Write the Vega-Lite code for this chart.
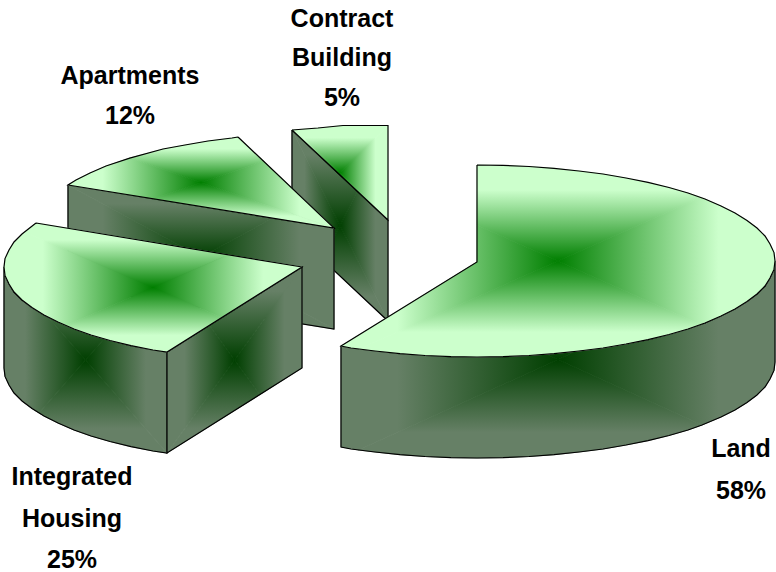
{"$schema":"https://vega.github.io/schema/vega-lite/v6.json","width":776,"height":572,"padding":0,"autosize":"none","background":"white","view":{"stroke":null},
"config":{"axis":{"grid":false}},
"layer":[
{"data":{"values":[
{"part":"cs1","tone":"sT","n":1,"x":340,"y":225.5},{"part":"cs1","tone":"sT","n":2,"x":292,"y":130},{"part":"cs1","tone":"sT","n":3,"x":357.2,"y":191.2},{"part":"cs1","tone":"sT","n":4,"x":340,"y":225.5},
{"part":"cs2","tone":"sR","n":1,"x":340,"y":225.5},{"part":"cs2","tone":"sR","n":2,"x":357.2,"y":191.2},{"part":"cs2","tone":"sR","n":3,"x":388,"y":220},{"part":"cs2","tone":"sR","n":4,"x":388,"y":321},{"part":"cs2","tone":"sR","n":5,"x":340,"y":225.5},
{"part":"cs3","tone":"sB","n":1,"x":340,"y":225.5},{"part":"cs3","tone":"sB","n":2,"x":388,"y":321},{"part":"cs3","tone":"sB","n":3,"x":322.8,"y":259.8},{"part":"cs3","tone":"sB","n":4,"x":340,"y":225.5},
{"part":"cs4","tone":"sL","n":1,"x":340,"y":225.5},{"part":"cs4","tone":"sL","n":2,"x":322.8,"y":259.8},{"part":"cs4","tone":"sL","n":3,"x":292,"y":231},{"part":"cs4","tone":"sL","n":4,"x":292,"y":130},{"part":"cs4","tone":"sL","n":5,"x":340,"y":225.5},
{"part":"csE","tone":"edge","n":1,"x":292,"y":130},{"part":"csE","tone":"edge","n":2,"x":388,"y":220},{"part":"csE","tone":"edge","n":3,"x":388,"y":321},{"part":"csE","tone":"edge","n":4,"x":292,"y":231},{"part":"csE","tone":"edge","n":5,"x":292,"y":130},
{"part":"ct1","tone":"tT","n":1,"x":340,"y":172.75},{"part":"ct1","tone":"tT","n":2,"x":296.5,"y":129.7},{"part":"ct1","tone":"tT","n":3,"x":318,"y":128},{"part":"ct1","tone":"tT","n":4,"x":343,"y":125.5},{"part":"ct1","tone":"tT","n":5,"x":388,"y":125.5},{"part":"ct1","tone":"tT","n":6,"x":340,"y":172.75},
{"part":"ct2","tone":"tR","n":1,"x":340,"y":172.75},{"part":"ct2","tone":"tR","n":2,"x":388,"y":125.5},{"part":"ct2","tone":"tR","n":3,"x":388,"y":220},{"part":"ct2","tone":"tR","n":4,"x":340,"y":172.75},
{"part":"ct3","tone":"tL","n":1,"x":340,"y":172.75},{"part":"ct3","tone":"tL","n":2,"x":338.8,"y":173.9},{"part":"ct3","tone":"tL","n":3,"x":292,"y":130},{"part":"ct3","tone":"tL","n":4,"x":296.5,"y":129.7},{"part":"ct3","tone":"tL","n":5,"x":340,"y":172.75},
{"part":"ct4","tone":"tB","n":1,"x":340,"y":172.75},{"part":"ct4","tone":"tB","n":2,"x":388,"y":220},{"part":"ct4","tone":"tB","n":3,"x":338.8,"y":173.9},{"part":"ct4","tone":"tB","n":4,"x":340,"y":172.75},
{"part":"ctE","tone":"edge","n":1,"x":292,"y":130},{"part":"ctE","tone":"edge","n":2,"x":318,"y":128},{"part":"ctE","tone":"edge","n":3,"x":343,"y":125.5},{"part":"ctE","tone":"edge","n":4,"x":388,"y":125.5},{"part":"ctE","tone":"edge","n":5,"x":388,"y":220},{"part":"ctE","tone":"edge","n":6,"x":292,"y":130},
{"part":"as1","tone":"sT","n":1,"x":201,"y":257},{"part":"as1","tone":"sT","n":2,"x":68,"y":185},{"part":"as1","tone":"sT","n":3,"x":272.8,"y":218.1},{"part":"as1","tone":"sT","n":4,"x":201,"y":257},
{"part":"as2","tone":"sR","n":1,"x":201,"y":257},{"part":"as2","tone":"sR","n":2,"x":272.8,"y":218.1},{"part":"as2","tone":"sR","n":3,"x":334,"y":228},{"part":"as2","tone":"sR","n":4,"x":334,"y":329},{"part":"as2","tone":"sR","n":5,"x":201,"y":257},
{"part":"as3","tone":"sB","n":1,"x":201,"y":257},{"part":"as3","tone":"sB","n":2,"x":334,"y":329},{"part":"as3","tone":"sB","n":3,"x":129.2,"y":295.9},{"part":"as3","tone":"sB","n":4,"x":201,"y":257},
{"part":"as4","tone":"sL","n":1,"x":201,"y":257},{"part":"as4","tone":"sL","n":2,"x":129.2,"y":295.9},{"part":"as4","tone":"sL","n":3,"x":68,"y":286},{"part":"as4","tone":"sL","n":4,"x":68,"y":185},{"part":"as4","tone":"sL","n":5,"x":201,"y":257},
{"part":"asE","tone":"edge","n":1,"x":68,"y":185},{"part":"asE","tone":"edge","n":2,"x":334,"y":228},{"part":"asE","tone":"edge","n":3,"x":334,"y":329},{"part":"asE","tone":"edge","n":4,"x":68,"y":286},{"part":"asE","tone":"edge","n":5,"x":68,"y":185},
{"part":"at1","tone":"tT","n":1,"x":201,"y":182.5},{"part":"at1","tone":"tT","n":2,"x":129.7,"y":158.1},{"part":"at1","tone":"tT","n":3,"x":163,"y":149},{"part":"at1","tone":"tT","n":4,"x":185,"y":145},{"part":"at1","tone":"tT","n":5,"x":208,"y":141},{"part":"at1","tone":"tT","n":6,"x":232,"y":138},{"part":"at1","tone":"tT","n":7,"x":238,"y":137},{"part":"at1","tone":"tT","n":8,"x":263.5,"y":161.1},{"part":"at1","tone":"tT","n":9,"x":201,"y":182.5},
{"part":"at2","tone":"tL","n":1,"x":201,"y":182.5},{"part":"at2","tone":"tL","n":2,"x":129.7,"y":158.1},{"part":"at2","tone":"tL","n":3,"x":106,"y":166},{"part":"at2","tone":"tL","n":4,"x":90,"y":173},{"part":"at2","tone":"tL","n":5,"x":76,"y":180},{"part":"at2","tone":"tL","n":6,"x":68,"y":185},{"part":"at2","tone":"tL","n":7,"x":153.4,"y":198.8},{"part":"at2","tone":"tL","n":8,"x":201,"y":182.5},
{"part":"at3","tone":"tR","n":1,"x":201,"y":182.5},{"part":"at3","tone":"tR","n":2,"x":263.5,"y":161.1},{"part":"at3","tone":"tR","n":3,"x":334,"y":228},{"part":"at3","tone":"tR","n":4,"x":201,"y":182.5},
{"part":"at4","tone":"tB","n":1,"x":201,"y":182.5},{"part":"at4","tone":"tB","n":2,"x":334,"y":228},{"part":"at4","tone":"tB","n":3,"x":153.4,"y":198.8},{"part":"at4","tone":"tB","n":4,"x":201,"y":182.5},
{"part":"atE","tone":"edge","n":1,"x":238,"y":137},{"part":"atE","tone":"edge","n":2,"x":334,"y":228},{"part":"atE","tone":"edge","n":3,"x":68,"y":185},{"part":"atE","tone":"edge","n":4,"x":76,"y":180},{"part":"atE","tone":"edge","n":5,"x":90,"y":173},{"part":"atE","tone":"edge","n":6,"x":106,"y":166},{"part":"atE","tone":"edge","n":7,"x":129.7,"y":158.1},{"part":"atE","tone":"edge","n":8,"x":163,"y":149},{"part":"atE","tone":"edge","n":9,"x":185,"y":145},{"part":"atE","tone":"edge","n":10,"x":208,"y":141},{"part":"atE","tone":"edge","n":11,"x":232,"y":138},{"part":"atE","tone":"edge","n":12,"x":238,"y":137},
{"part":"ho1","tone":"sMid","n":1,"x":85.5,"y":360},{"part":"ho1","tone":"sMid","n":2,"x":48,"y":317.3},{"part":"ho1","tone":"sMid","n":3,"x":58,"y":322},{"part":"ho1","tone":"sMid","n":4,"x":74,"y":329},{"part":"ho1","tone":"sMid","n":5,"x":91,"y":335},{"part":"ho1","tone":"sMid","n":6,"x":104.2,"y":338.7},{"part":"ho1","tone":"sMid","n":7,"x":85.5,"y":360},
{"part":"ho2","tone":"sL","n":1,"x":85.5,"y":360},{"part":"ho2","tone":"sL","n":2,"x":48,"y":317.3},{"part":"ho2","tone":"sL","n":3,"x":44,"y":315},{"part":"ho2","tone":"sL","n":4,"x":32,"y":307.6},{"part":"ho2","tone":"sL","n":5,"x":22,"y":300},{"part":"ho2","tone":"sL","n":6,"x":14,"y":292},{"part":"ho2","tone":"sL","n":7,"x":9,"y":284},{"part":"ho2","tone":"sL","n":8,"x":5,"y":275.4},{"part":"ho2","tone":"sL","n":9,"x":4,"y":267},{"part":"ho2","tone":"sL","n":10,"x":4,"y":368},{"part":"ho2","tone":"sL","n":11,"x":5,"y":376.4},{"part":"ho2","tone":"sL","n":12,"x":9,"y":385},{"part":"ho2","tone":"sL","n":13,"x":14,"y":393},{"part":"ho2","tone":"sL","n":14,"x":22,"y":401},{"part":"ho2","tone":"sL","n":15,"x":32,"y":408.6},{"part":"ho2","tone":"sL","n":16,"x":39,"y":413},{"part":"ho2","tone":"sL","n":17,"x":85.5,"y":360},
{"part":"ho3","tone":"sB","n":1,"x":85.5,"y":360},{"part":"ho3","tone":"sB","n":2,"x":39,"y":413},{"part":"ho3","tone":"sB","n":3,"x":44,"y":416},{"part":"ho3","tone":"sB","n":4,"x":58,"y":423},{"part":"ho3","tone":"sB","n":5,"x":74,"y":430},{"part":"ho3","tone":"sB","n":6,"x":91,"y":436},{"part":"ho3","tone":"sB","n":7,"x":110,"y":441.5},{"part":"ho3","tone":"sB","n":8,"x":131,"y":446.6},{"part":"ho3","tone":"sB","n":9,"x":153,"y":451},{"part":"ho3","tone":"sB","n":10,"x":167,"y":453},{"part":"ho3","tone":"sB","n":11,"x":85.5,"y":360},
{"part":"ho4","tone":"sR","n":1,"x":85.5,"y":360},{"part":"ho4","tone":"sR","n":2,"x":104.2,"y":338.7},{"part":"ho4","tone":"sR","n":3,"x":110,"y":340.5},{"part":"ho4","tone":"sR","n":4,"x":131,"y":345.6},{"part":"ho4","tone":"sR","n":5,"x":153,"y":350},{"part":"ho4","tone":"sR","n":6,"x":167,"y":352},{"part":"ho4","tone":"sR","n":7,"x":167,"y":453},{"part":"ho4","tone":"sR","n":8,"x":85.5,"y":360},
{"part":"hoE","tone":"edge","n":1,"x":4,"y":267},{"part":"hoE","tone":"edge","n":2,"x":5,"y":275.4},{"part":"hoE","tone":"edge","n":3,"x":9,"y":284},{"part":"hoE","tone":"edge","n":4,"x":14,"y":292},{"part":"hoE","tone":"edge","n":5,"x":22,"y":300},{"part":"hoE","tone":"edge","n":6,"x":32,"y":307.6},{"part":"hoE","tone":"edge","n":7,"x":44,"y":315},{"part":"hoE","tone":"edge","n":8,"x":58,"y":322},{"part":"hoE","tone":"edge","n":9,"x":74,"y":329},{"part":"hoE","tone":"edge","n":10,"x":91,"y":335},{"part":"hoE","tone":"edge","n":11,"x":110,"y":340.5},{"part":"hoE","tone":"edge","n":12,"x":131,"y":345.6},{"part":"hoE","tone":"edge","n":13,"x":153,"y":350},{"part":"hoE","tone":"edge","n":14,"x":167,"y":352},{"part":"hoE","tone":"edge","n":15,"x":167,"y":453},{"part":"hoE","tone":"edge","n":16,"x":153,"y":451},{"part":"hoE","tone":"edge","n":17,"x":131,"y":446.6},{"part":"hoE","tone":"edge","n":18,"x":110,"y":441.5},{"part":"hoE","tone":"edge","n":19,"x":91,"y":436},{"part":"hoE","tone":"edge","n":20,"x":74,"y":430},{"part":"hoE","tone":"edge","n":21,"x":58,"y":423},{"part":"hoE","tone":"edge","n":22,"x":44,"y":416},{"part":"hoE","tone":"edge","n":23,"x":32,"y":408.6},{"part":"hoE","tone":"edge","n":24,"x":22,"y":401},{"part":"hoE","tone":"edge","n":25,"x":14,"y":393},{"part":"hoE","tone":"edge","n":26,"x":9,"y":385},{"part":"hoE","tone":"edge","n":27,"x":5,"y":376.4},{"part":"hoE","tone":"edge","n":28,"x":4,"y":368},{"part":"hoE","tone":"edge","n":29,"x":4,"y":267},
{"part":"hc1","tone":"sL","n":1,"x":234.5,"y":360},{"part":"hc1","tone":"sL","n":2,"x":209.3,"y":325.3},{"part":"hc1","tone":"sL","n":3,"x":167,"y":352},{"part":"hc1","tone":"sL","n":4,"x":167,"y":453},{"part":"hc1","tone":"sL","n":5,"x":234.5,"y":360},
{"part":"hc2","tone":"sR","n":1,"x":234.5,"y":360},{"part":"hc2","tone":"sR","n":2,"x":302,"y":267},{"part":"hc2","tone":"sR","n":3,"x":302,"y":368},{"part":"hc2","tone":"sR","n":4,"x":259.7,"y":394.7},{"part":"hc2","tone":"sR","n":5,"x":234.5,"y":360},
{"part":"hc3","tone":"sT","n":1,"x":234.5,"y":360},{"part":"hc3","tone":"sT","n":2,"x":209.3,"y":325.3},{"part":"hc3","tone":"sT","n":3,"x":302,"y":267},{"part":"hc3","tone":"sT","n":4,"x":234.5,"y":360},
{"part":"hc4","tone":"sB","n":1,"x":234.5,"y":360},{"part":"hc4","tone":"sB","n":2,"x":167,"y":453},{"part":"hc4","tone":"sB","n":3,"x":259.7,"y":394.7},{"part":"hc4","tone":"sB","n":4,"x":234.5,"y":360},
{"part":"hcE","tone":"edge","n":1,"x":167,"y":352},{"part":"hcE","tone":"edge","n":2,"x":302,"y":267},{"part":"hcE","tone":"edge","n":3,"x":302,"y":368},{"part":"hcE","tone":"edge","n":4,"x":167,"y":453},{"part":"hcE","tone":"edge","n":5,"x":167,"y":352},
{"part":"ht1","tone":"tL","n":1,"x":153,"y":287.5},{"part":"ht1","tone":"tL","n":2,"x":24.5,"y":232},{"part":"ht1","tone":"tL","n":3,"x":22,"y":234},{"part":"ht1","tone":"tL","n":4,"x":14,"y":242},{"part":"ht1","tone":"tL","n":5,"x":9,"y":250},{"part":"ht1","tone":"tL","n":6,"x":5,"y":258.6},{"part":"ht1","tone":"tL","n":7,"x":4,"y":267},{"part":"ht1","tone":"tL","n":8,"x":5,"y":275.4},{"part":"ht1","tone":"tL","n":9,"x":9,"y":284},{"part":"ht1","tone":"tL","n":10,"x":14,"y":292},{"part":"ht1","tone":"tL","n":11,"x":22,"y":300},{"part":"ht1","tone":"tL","n":12,"x":32,"y":307.6},{"part":"ht1","tone":"tL","n":13,"x":44,"y":315},{"part":"ht1","tone":"tL","n":14,"x":58,"y":322},{"part":"ht1","tone":"tL","n":15,"x":65.4,"y":325.4},{"part":"ht1","tone":"tL","n":16,"x":153,"y":287.5},
{"part":"ht2","tone":"tT","n":1,"x":153,"y":287.5},{"part":"ht2","tone":"tT","n":2,"x":24.5,"y":232},{"part":"ht2","tone":"tT","n":3,"x":36,"y":223},{"part":"ht2","tone":"tT","n":4,"x":228.5,"y":254.8},{"part":"ht2","tone":"tT","n":5,"x":153,"y":287.5},
{"part":"ht3","tone":"tR","n":1,"x":153,"y":287.5},{"part":"ht3","tone":"tR","n":2,"x":228.5,"y":254.8},{"part":"ht3","tone":"tR","n":3,"x":302,"y":267},{"part":"ht3","tone":"tR","n":4,"x":222,"y":317.4},{"part":"ht3","tone":"tR","n":5,"x":153,"y":287.5},
{"part":"ht4","tone":"tB","n":1,"x":153,"y":287.5},{"part":"ht4","tone":"tB","n":2,"x":222,"y":317.4},{"part":"ht4","tone":"tB","n":3,"x":167,"y":352},{"part":"ht4","tone":"tB","n":4,"x":153,"y":350},{"part":"ht4","tone":"tB","n":5,"x":131,"y":345.6},{"part":"ht4","tone":"tB","n":6,"x":110,"y":340.5},{"part":"ht4","tone":"tB","n":7,"x":91,"y":335},{"part":"ht4","tone":"tB","n":8,"x":74,"y":329},{"part":"ht4","tone":"tB","n":9,"x":65.4,"y":325.4},{"part":"ht4","tone":"tB","n":10,"x":153,"y":287.5},
{"part":"htE","tone":"edge","n":1,"x":36,"y":223},{"part":"htE","tone":"edge","n":2,"x":302,"y":267},{"part":"htE","tone":"edge","n":3,"x":167,"y":352},{"part":"htE","tone":"edge","n":4,"x":153,"y":350},{"part":"htE","tone":"edge","n":5,"x":131,"y":345.6},{"part":"htE","tone":"edge","n":6,"x":110,"y":340.5},{"part":"htE","tone":"edge","n":7,"x":91,"y":335},{"part":"htE","tone":"edge","n":8,"x":74,"y":329},{"part":"htE","tone":"edge","n":9,"x":58,"y":322},{"part":"htE","tone":"edge","n":10,"x":44,"y":315},{"part":"htE","tone":"edge","n":11,"x":32,"y":307.6},{"part":"htE","tone":"edge","n":12,"x":22,"y":300},{"part":"htE","tone":"edge","n":13,"x":14,"y":292},{"part":"htE","tone":"edge","n":14,"x":9,"y":284},{"part":"htE","tone":"edge","n":15,"x":5,"y":275.4},{"part":"htE","tone":"edge","n":16,"x":4,"y":267},{"part":"htE","tone":"edge","n":17,"x":5,"y":258.6},{"part":"htE","tone":"edge","n":18,"x":9,"y":250},{"part":"htE","tone":"edge","n":19,"x":14,"y":242},{"part":"htE","tone":"edge","n":20,"x":22,"y":234},{"part":"htE","tone":"edge","n":21,"x":36,"y":223},
{"part":"ls1","tone":"sApex","n":1,"x":558,"y":359.5},{"part":"ls1","tone":"sApex","n":2,"x":546,"y":354.3},{"part":"ls1","tone":"sApex","n":3,"x":554,"y":353.7},{"part":"ls1","tone":"sApex","n":4,"x":575.5,"y":351.6},{"part":"ls1","tone":"sApex","n":5,"x":558,"y":359.5},
{"part":"ls2","tone":"sL","n":1,"x":558,"y":359.5},{"part":"ls2","tone":"sL","n":2,"x":546,"y":354.3},{"part":"ls2","tone":"sL","n":3,"x":529,"y":355.5},{"part":"ls2","tone":"sL","n":4,"x":503,"y":356.6},{"part":"ls2","tone":"sL","n":5,"x":477,"y":357},{"part":"ls2","tone":"sL","n":6,"x":451,"y":356.6},{"part":"ls2","tone":"sL","n":7,"x":425,"y":355.5},{"part":"ls2","tone":"sL","n":8,"x":400,"y":353.7},{"part":"ls2","tone":"sL","n":9,"x":375,"y":351},{"part":"ls2","tone":"sL","n":10,"x":351,"y":348},{"part":"ls2","tone":"sL","n":11,"x":341,"y":346},{"part":"ls2","tone":"sL","n":12,"x":341,"y":447},{"part":"ls2","tone":"sL","n":13,"x":358.5,"y":450},{"part":"ls2","tone":"sL","n":14,"x":558,"y":359.5},
{"part":"ls3","tone":"sB","n":1,"x":558,"y":359.5},{"part":"ls3","tone":"sB","n":2,"x":358.5,"y":450},{"part":"ls3","tone":"sB","n":3,"x":375,"y":452},{"part":"ls3","tone":"sB","n":4,"x":400,"y":454.7},{"part":"ls3","tone":"sB","n":5,"x":425,"y":456.5},{"part":"ls3","tone":"sB","n":6,"x":451,"y":457.6},{"part":"ls3","tone":"sB","n":7,"x":477,"y":458},{"part":"ls3","tone":"sB","n":8,"x":503,"y":457.6},{"part":"ls3","tone":"sB","n":9,"x":529,"y":456.5},{"part":"ls3","tone":"sB","n":10,"x":554,"y":454.7},{"part":"ls3","tone":"sB","n":11,"x":579,"y":452},{"part":"ls3","tone":"sB","n":12,"x":603,"y":449},{"part":"ls3","tone":"sB","n":13,"x":626,"y":445},{"part":"ls3","tone":"sB","n":14,"x":648,"y":440.6},{"part":"ls3","tone":"sB","n":15,"x":669,"y":435.5},{"part":"ls3","tone":"sB","n":16,"x":688,"y":430},{"part":"ls3","tone":"sB","n":17,"x":702,"y":425},{"part":"ls3","tone":"sB","n":18,"x":558,"y":359.5},
{"part":"ls4","tone":"sR","n":1,"x":558,"y":359.5},{"part":"ls4","tone":"sR","n":2,"x":575.5,"y":351.6},{"part":"ls4","tone":"sR","n":3,"x":579,"y":351},{"part":"ls4","tone":"sR","n":4,"x":603,"y":348},{"part":"ls4","tone":"sR","n":5,"x":626,"y":344},{"part":"ls4","tone":"sR","n":6,"x":648,"y":339.6},{"part":"ls4","tone":"sR","n":7,"x":669,"y":334.5},{"part":"ls4","tone":"sR","n":8,"x":688,"y":329},{"part":"ls4","tone":"sR","n":9,"x":705,"y":323},{"part":"ls4","tone":"sR","n":10,"x":721,"y":316},{"part":"ls4","tone":"sR","n":11,"x":735,"y":309},{"part":"ls4","tone":"sR","n":12,"x":747,"y":301.6},{"part":"ls4","tone":"sR","n":13,"x":757,"y":294},{"part":"ls4","tone":"sR","n":14,"x":765,"y":286},{"part":"ls4","tone":"sR","n":15,"x":770,"y":278},{"part":"ls4","tone":"sR","n":16,"x":774,"y":269.4},{"part":"ls4","tone":"sR","n":17,"x":775,"y":261},{"part":"ls4","tone":"sR","n":18,"x":775,"y":362},{"part":"ls4","tone":"sR","n":19,"x":774,"y":370.4},{"part":"ls4","tone":"sR","n":20,"x":770,"y":379},{"part":"ls4","tone":"sR","n":21,"x":765,"y":387},{"part":"ls4","tone":"sR","n":22,"x":757,"y":395},{"part":"ls4","tone":"sR","n":23,"x":747,"y":402.6},{"part":"ls4","tone":"sR","n":24,"x":735,"y":410},{"part":"ls4","tone":"sR","n":25,"x":721,"y":417},{"part":"ls4","tone":"sR","n":26,"x":702,"y":425},{"part":"ls4","tone":"sR","n":27,"x":558,"y":359.5},
{"part":"lsE","tone":"edge","n":1,"x":341,"y":346},{"part":"lsE","tone":"edge","n":2,"x":351,"y":348},{"part":"lsE","tone":"edge","n":3,"x":375,"y":351},{"part":"lsE","tone":"edge","n":4,"x":400,"y":353.7},{"part":"lsE","tone":"edge","n":5,"x":425,"y":355.5},{"part":"lsE","tone":"edge","n":6,"x":451,"y":356.6},{"part":"lsE","tone":"edge","n":7,"x":477,"y":357},{"part":"lsE","tone":"edge","n":8,"x":503,"y":356.6},{"part":"lsE","tone":"edge","n":9,"x":529,"y":355.5},{"part":"lsE","tone":"edge","n":10,"x":554,"y":353.7},{"part":"lsE","tone":"edge","n":11,"x":579,"y":351},{"part":"lsE","tone":"edge","n":12,"x":603,"y":348},{"part":"lsE","tone":"edge","n":13,"x":626,"y":344},{"part":"lsE","tone":"edge","n":14,"x":648,"y":339.6},{"part":"lsE","tone":"edge","n":15,"x":669,"y":334.5},{"part":"lsE","tone":"edge","n":16,"x":688,"y":329},{"part":"lsE","tone":"edge","n":17,"x":705,"y":323},{"part":"lsE","tone":"edge","n":18,"x":721,"y":316},{"part":"lsE","tone":"edge","n":19,"x":735,"y":309},{"part":"lsE","tone":"edge","n":20,"x":747,"y":301.6},{"part":"lsE","tone":"edge","n":21,"x":757,"y":294},{"part":"lsE","tone":"edge","n":22,"x":765,"y":286},{"part":"lsE","tone":"edge","n":23,"x":770,"y":278},{"part":"lsE","tone":"edge","n":24,"x":774,"y":269.4},{"part":"lsE","tone":"edge","n":25,"x":775,"y":261},{"part":"lsE","tone":"edge","n":26,"x":775,"y":362},{"part":"lsE","tone":"edge","n":27,"x":774,"y":370.4},{"part":"lsE","tone":"edge","n":28,"x":770,"y":379},{"part":"lsE","tone":"edge","n":29,"x":765,"y":387},{"part":"lsE","tone":"edge","n":30,"x":757,"y":395},{"part":"lsE","tone":"edge","n":31,"x":747,"y":402.6},{"part":"lsE","tone":"edge","n":32,"x":735,"y":410},{"part":"lsE","tone":"edge","n":33,"x":721,"y":417},{"part":"lsE","tone":"edge","n":34,"x":702,"y":425},{"part":"lsE","tone":"edge","n":35,"x":688,"y":430},{"part":"lsE","tone":"edge","n":36,"x":669,"y":435.5},{"part":"lsE","tone":"edge","n":37,"x":648,"y":440.6},{"part":"lsE","tone":"edge","n":38,"x":626,"y":445},{"part":"lsE","tone":"edge","n":39,"x":603,"y":449},{"part":"lsE","tone":"edge","n":40,"x":579,"y":452},{"part":"lsE","tone":"edge","n":41,"x":554,"y":454.7},{"part":"lsE","tone":"edge","n":42,"x":529,"y":456.5},{"part":"lsE","tone":"edge","n":43,"x":503,"y":457.6},{"part":"lsE","tone":"edge","n":44,"x":477,"y":458},{"part":"lsE","tone":"edge","n":45,"x":451,"y":457.6},{"part":"lsE","tone":"edge","n":46,"x":425,"y":456.5},{"part":"lsE","tone":"edge","n":47,"x":400,"y":454.7},{"part":"lsE","tone":"edge","n":48,"x":375,"y":452},{"part":"lsE","tone":"edge","n":49,"x":351,"y":449},{"part":"lsE","tone":"edge","n":50,"x":341,"y":447},{"part":"lsE","tone":"edge","n":51,"x":341,"y":346},
{"part":"lt1","tone":"tL","n":1,"x":558,"y":261},{"part":"lt1","tone":"tL","n":2,"x":477,"y":225.2},{"part":"lt1","tone":"tL","n":3,"x":477,"y":262},{"part":"lt1","tone":"tL","n":4,"x":341,"y":346},{"part":"lt1","tone":"tL","n":5,"x":351,"y":348},{"part":"lt1","tone":"tL","n":6,"x":359,"y":349},{"part":"lt1","tone":"tL","n":7,"x":558,"y":261},
{"part":"lt2","tone":"tT","n":1,"x":558,"y":261},{"part":"lt2","tone":"tT","n":2,"x":477,"y":225.2},{"part":"lt2","tone":"tT","n":3,"x":477,"y":165},{"part":"lt2","tone":"tT","n":4,"x":503,"y":165.4},{"part":"lt2","tone":"tT","n":5,"x":529,"y":166.5},{"part":"lt2","tone":"tT","n":6,"x":554,"y":168.3},{"part":"lt2","tone":"tT","n":7,"x":579,"y":171},{"part":"lt2","tone":"tT","n":8,"x":603,"y":174},{"part":"lt2","tone":"tT","n":9,"x":626,"y":178},{"part":"lt2","tone":"tT","n":10,"x":648,"y":182.4},{"part":"lt2","tone":"tT","n":11,"x":669,"y":187.5},{"part":"lt2","tone":"tT","n":12,"x":688,"y":193},{"part":"lt2","tone":"tT","n":13,"x":701,"y":197.6},{"part":"lt2","tone":"tT","n":14,"x":558,"y":261},
{"part":"lt3","tone":"tR","n":1,"x":558,"y":261},{"part":"lt3","tone":"tR","n":2,"x":701,"y":197.6},{"part":"lt3","tone":"tR","n":3,"x":721,"y":206},{"part":"lt3","tone":"tR","n":4,"x":735,"y":213},{"part":"lt3","tone":"tR","n":5,"x":747,"y":220.4},{"part":"lt3","tone":"tR","n":6,"x":757,"y":228},{"part":"lt3","tone":"tR","n":7,"x":765,"y":236},{"part":"lt3","tone":"tR","n":8,"x":770,"y":244},{"part":"lt3","tone":"tR","n":9,"x":774,"y":252.6},{"part":"lt3","tone":"tR","n":10,"x":775,"y":261},{"part":"lt3","tone":"tR","n":11,"x":774,"y":269.4},{"part":"lt3","tone":"tR","n":12,"x":770,"y":278},{"part":"lt3","tone":"tR","n":13,"x":765,"y":286},{"part":"lt3","tone":"tR","n":14,"x":757,"y":294},{"part":"lt3","tone":"tR","n":15,"x":747,"y":301.6},{"part":"lt3","tone":"tR","n":16,"x":735,"y":309},{"part":"lt3","tone":"tR","n":17,"x":721,"y":316},{"part":"lt3","tone":"tR","n":18,"x":701,"y":324.4},{"part":"lt3","tone":"tR","n":19,"x":558,"y":261},
{"part":"lt4","tone":"tB","n":1,"x":558,"y":261},{"part":"lt4","tone":"tB","n":2,"x":701,"y":324.4},{"part":"lt4","tone":"tB","n":3,"x":688,"y":329},{"part":"lt4","tone":"tB","n":4,"x":669,"y":334.5},{"part":"lt4","tone":"tB","n":5,"x":648,"y":339.6},{"part":"lt4","tone":"tB","n":6,"x":626,"y":344},{"part":"lt4","tone":"tB","n":7,"x":603,"y":348},{"part":"lt4","tone":"tB","n":8,"x":579,"y":351},{"part":"lt4","tone":"tB","n":9,"x":554,"y":353.7},{"part":"lt4","tone":"tB","n":10,"x":529,"y":355.5},{"part":"lt4","tone":"tB","n":11,"x":503,"y":356.6},{"part":"lt4","tone":"tB","n":12,"x":477,"y":357},{"part":"lt4","tone":"tB","n":13,"x":451,"y":356.6},{"part":"lt4","tone":"tB","n":14,"x":425,"y":355.5},{"part":"lt4","tone":"tB","n":15,"x":400,"y":353.7},{"part":"lt4","tone":"tB","n":16,"x":375,"y":351},{"part":"lt4","tone":"tB","n":17,"x":359,"y":349},{"part":"lt4","tone":"tB","n":18,"x":558,"y":261},
{"part":"ltE","tone":"edge","n":1,"x":477,"y":165},{"part":"ltE","tone":"edge","n":2,"x":503,"y":165.4},{"part":"ltE","tone":"edge","n":3,"x":529,"y":166.5},{"part":"ltE","tone":"edge","n":4,"x":554,"y":168.3},{"part":"ltE","tone":"edge","n":5,"x":579,"y":171},{"part":"ltE","tone":"edge","n":6,"x":603,"y":174},{"part":"ltE","tone":"edge","n":7,"x":626,"y":178},{"part":"ltE","tone":"edge","n":8,"x":648,"y":182.4},{"part":"ltE","tone":"edge","n":9,"x":669,"y":187.5},{"part":"ltE","tone":"edge","n":10,"x":688,"y":193},{"part":"ltE","tone":"edge","n":11,"x":705,"y":199},{"part":"ltE","tone":"edge","n":12,"x":721,"y":206},{"part":"ltE","tone":"edge","n":13,"x":735,"y":213},{"part":"ltE","tone":"edge","n":14,"x":747,"y":220.4},{"part":"ltE","tone":"edge","n":15,"x":757,"y":228},{"part":"ltE","tone":"edge","n":16,"x":765,"y":236},{"part":"ltE","tone":"edge","n":17,"x":770,"y":244},{"part":"ltE","tone":"edge","n":18,"x":774,"y":252.6},{"part":"ltE","tone":"edge","n":19,"x":775,"y":261},{"part":"ltE","tone":"edge","n":20,"x":774,"y":269.4},{"part":"ltE","tone":"edge","n":21,"x":770,"y":278},{"part":"ltE","tone":"edge","n":22,"x":765,"y":286},{"part":"ltE","tone":"edge","n":23,"x":757,"y":294},{"part":"ltE","tone":"edge","n":24,"x":747,"y":301.6},{"part":"ltE","tone":"edge","n":25,"x":735,"y":309},{"part":"ltE","tone":"edge","n":26,"x":721,"y":316},{"part":"ltE","tone":"edge","n":27,"x":705,"y":323},{"part":"ltE","tone":"edge","n":28,"x":688,"y":329},{"part":"ltE","tone":"edge","n":29,"x":669,"y":334.5},{"part":"ltE","tone":"edge","n":30,"x":648,"y":339.6},{"part":"ltE","tone":"edge","n":31,"x":626,"y":344},{"part":"ltE","tone":"edge","n":32,"x":603,"y":348},{"part":"ltE","tone":"edge","n":33,"x":579,"y":351},{"part":"ltE","tone":"edge","n":34,"x":554,"y":353.7},{"part":"ltE","tone":"edge","n":35,"x":529,"y":355.5},{"part":"ltE","tone":"edge","n":36,"x":503,"y":356.6},{"part":"ltE","tone":"edge","n":37,"x":477,"y":357},{"part":"ltE","tone":"edge","n":38,"x":451,"y":356.6},{"part":"ltE","tone":"edge","n":39,"x":425,"y":355.5},{"part":"ltE","tone":"edge","n":40,"x":400,"y":353.7},{"part":"ltE","tone":"edge","n":41,"x":375,"y":351},{"part":"ltE","tone":"edge","n":42,"x":351,"y":348},{"part":"ltE","tone":"edge","n":43,"x":341,"y":346},{"part":"ltE","tone":"edge","n":44,"x":477,"y":262},{"part":"ltE","tone":"edge","n":45,"x":477,"y":165}
]},
"mark":{"type":"line","interpolate":"linear","strokeJoin":"miter","clip":false},
"encoding":{
"x":{"field":"x","type":"quantitative","scale":{"domain":[0,776],"nice":false,"zero":false},"axis":null},
"y":{"field":"y","type":"quantitative","scale":{"domain":[572,0],"nice":false,"zero":false},"axis":null},
"detail":{"field":"part"},
"order":{"field":"n","type":"quantitative"},
"strokeWidth":{"condition":{"test":"datum.tone === 'edge'","value":1.2},"value":0.8},
"fill":{"condition":[
{"test":"datum.tone === 'tL'","value":{"gradient":"linear","x1":1,"y1":0,"x2":0,"y2":0,"stops":[{"offset":0,"color":"#007f00"},{"offset":0.74,"color":"#ccffcc"},{"offset":1,"color":"#ccffcc"}]}},
{"test":"datum.tone === 'tR'","value":{"gradient":"linear","x1":0,"y1":0,"x2":1,"y2":0,"stops":[{"offset":0,"color":"#007f00"},{"offset":0.74,"color":"#ccffcc"},{"offset":1,"color":"#ccffcc"}]}},
{"test":"datum.tone === 'tT'","value":{"gradient":"linear","x1":0,"y1":1,"x2":0,"y2":0,"stops":[{"offset":0,"color":"#007f00"},{"offset":0.74,"color":"#ccffcc"},{"offset":1,"color":"#ccffcc"}]}},
{"test":"datum.tone === 'tB'","value":{"gradient":"linear","x1":0,"y1":0,"x2":0,"y2":1,"stops":[{"offset":0,"color":"#007f00"},{"offset":0.74,"color":"#ccffcc"},{"offset":1,"color":"#ccffcc"}]}},
{"test":"datum.tone === 'sL'","value":{"gradient":"linear","x1":1,"y1":0,"x2":0,"y2":0,"stops":[{"offset":0,"color":"#003f00"},{"offset":0.74,"color":"#668066"},{"offset":1,"color":"#668066"}]}},
{"test":"datum.tone === 'sR'","value":{"gradient":"linear","x1":0,"y1":0,"x2":1,"y2":0,"stops":[{"offset":0,"color":"#003f00"},{"offset":0.74,"color":"#668066"},{"offset":1,"color":"#668066"}]}},
{"test":"datum.tone === 'sT'","value":{"gradient":"linear","x1":0,"y1":1,"x2":0,"y2":0,"stops":[{"offset":0,"color":"#003f00"},{"offset":0.74,"color":"#668066"},{"offset":1,"color":"#668066"}]}},
{"test":"datum.tone === 'sB'","value":{"gradient":"linear","x1":0,"y1":0,"x2":0,"y2":1,"stops":[{"offset":0,"color":"#003f00"},{"offset":0.74,"color":"#668066"},{"offset":1,"color":"#668066"}]}},
{"test":"datum.tone === 'sMid'","value":{"gradient":"linear","x1":0,"y1":1,"x2":0,"y2":0,"stops":[{"offset":0,"color":"#003f00"},{"offset":1,"color":"#3f673f"}]}},
{"test":"datum.tone === 'sApex'","value":{"gradient":"linear","x1":0,"y1":1,"x2":0,"y2":0,"stops":[{"offset":0,"color":"#003f00"},{"offset":1,"color":"#0b460b"}]}}
],"value":"transparent"},
"stroke":{"condition":[
{"test":"datum.tone === 'tL'","value":{"gradient":"linear","x1":1,"y1":0,"x2":0,"y2":0,"stops":[{"offset":0,"color":"#007f00"},{"offset":0.74,"color":"#ccffcc"},{"offset":1,"color":"#ccffcc"}]}},
{"test":"datum.tone === 'tR'","value":{"gradient":"linear","x1":0,"y1":0,"x2":1,"y2":0,"stops":[{"offset":0,"color":"#007f00"},{"offset":0.74,"color":"#ccffcc"},{"offset":1,"color":"#ccffcc"}]}},
{"test":"datum.tone === 'tT'","value":{"gradient":"linear","x1":0,"y1":1,"x2":0,"y2":0,"stops":[{"offset":0,"color":"#007f00"},{"offset":0.74,"color":"#ccffcc"},{"offset":1,"color":"#ccffcc"}]}},
{"test":"datum.tone === 'tB'","value":{"gradient":"linear","x1":0,"y1":0,"x2":0,"y2":1,"stops":[{"offset":0,"color":"#007f00"},{"offset":0.74,"color":"#ccffcc"},{"offset":1,"color":"#ccffcc"}]}},
{"test":"datum.tone === 'sL'","value":{"gradient":"linear","x1":1,"y1":0,"x2":0,"y2":0,"stops":[{"offset":0,"color":"#003f00"},{"offset":0.74,"color":"#668066"},{"offset":1,"color":"#668066"}]}},
{"test":"datum.tone === 'sR'","value":{"gradient":"linear","x1":0,"y1":0,"x2":1,"y2":0,"stops":[{"offset":0,"color":"#003f00"},{"offset":0.74,"color":"#668066"},{"offset":1,"color":"#668066"}]}},
{"test":"datum.tone === 'sT'","value":{"gradient":"linear","x1":0,"y1":1,"x2":0,"y2":0,"stops":[{"offset":0,"color":"#003f00"},{"offset":0.74,"color":"#668066"},{"offset":1,"color":"#668066"}]}},
{"test":"datum.tone === 'sB'","value":{"gradient":"linear","x1":0,"y1":0,"x2":0,"y2":1,"stops":[{"offset":0,"color":"#003f00"},{"offset":0.74,"color":"#668066"},{"offset":1,"color":"#668066"}]}},
{"test":"datum.tone === 'sMid'","value":{"gradient":"linear","x1":0,"y1":1,"x2":0,"y2":0,"stops":[{"offset":0,"color":"#003f00"},{"offset":1,"color":"#3f673f"}]}},
{"test":"datum.tone === 'sApex'","value":{"gradient":"linear","x1":0,"y1":1,"x2":0,"y2":0,"stops":[{"offset":0,"color":"#003f00"},{"offset":1,"color":"#0b460b"}]}}
],"value":"#000000"}
}},
{"data":{"values":[
{"line":"Contract","x":342,"y":19},{"line":"Building","x":342,"y":58},{"line":"5%","x":342,"y":98},
{"line":"Apartments","x":130,"y":76},{"line":"12%","x":130,"y":116},
{"line":"Integrated","x":72,"y":477},{"line":"Housing","x":72,"y":519},{"line":"25%","x":72,"y":560},
{"line":"Land","x":741,"y":449},{"line":"58%","x":741,"y":491}
]},
"mark":{"type":"text","font":"Liberation Sans","fontWeight":"bold","fontSize":25,"align":"center","baseline":"middle","color":"#000000"},
"encoding":{
"x":{"field":"x","type":"quantitative","scale":{"domain":[0,776],"nice":false,"zero":false},"axis":null},
"y":{"field":"y","type":"quantitative","scale":{"domain":[572,0],"nice":false,"zero":false},"axis":null},
"text":{"field":"line"}
}}
]}
